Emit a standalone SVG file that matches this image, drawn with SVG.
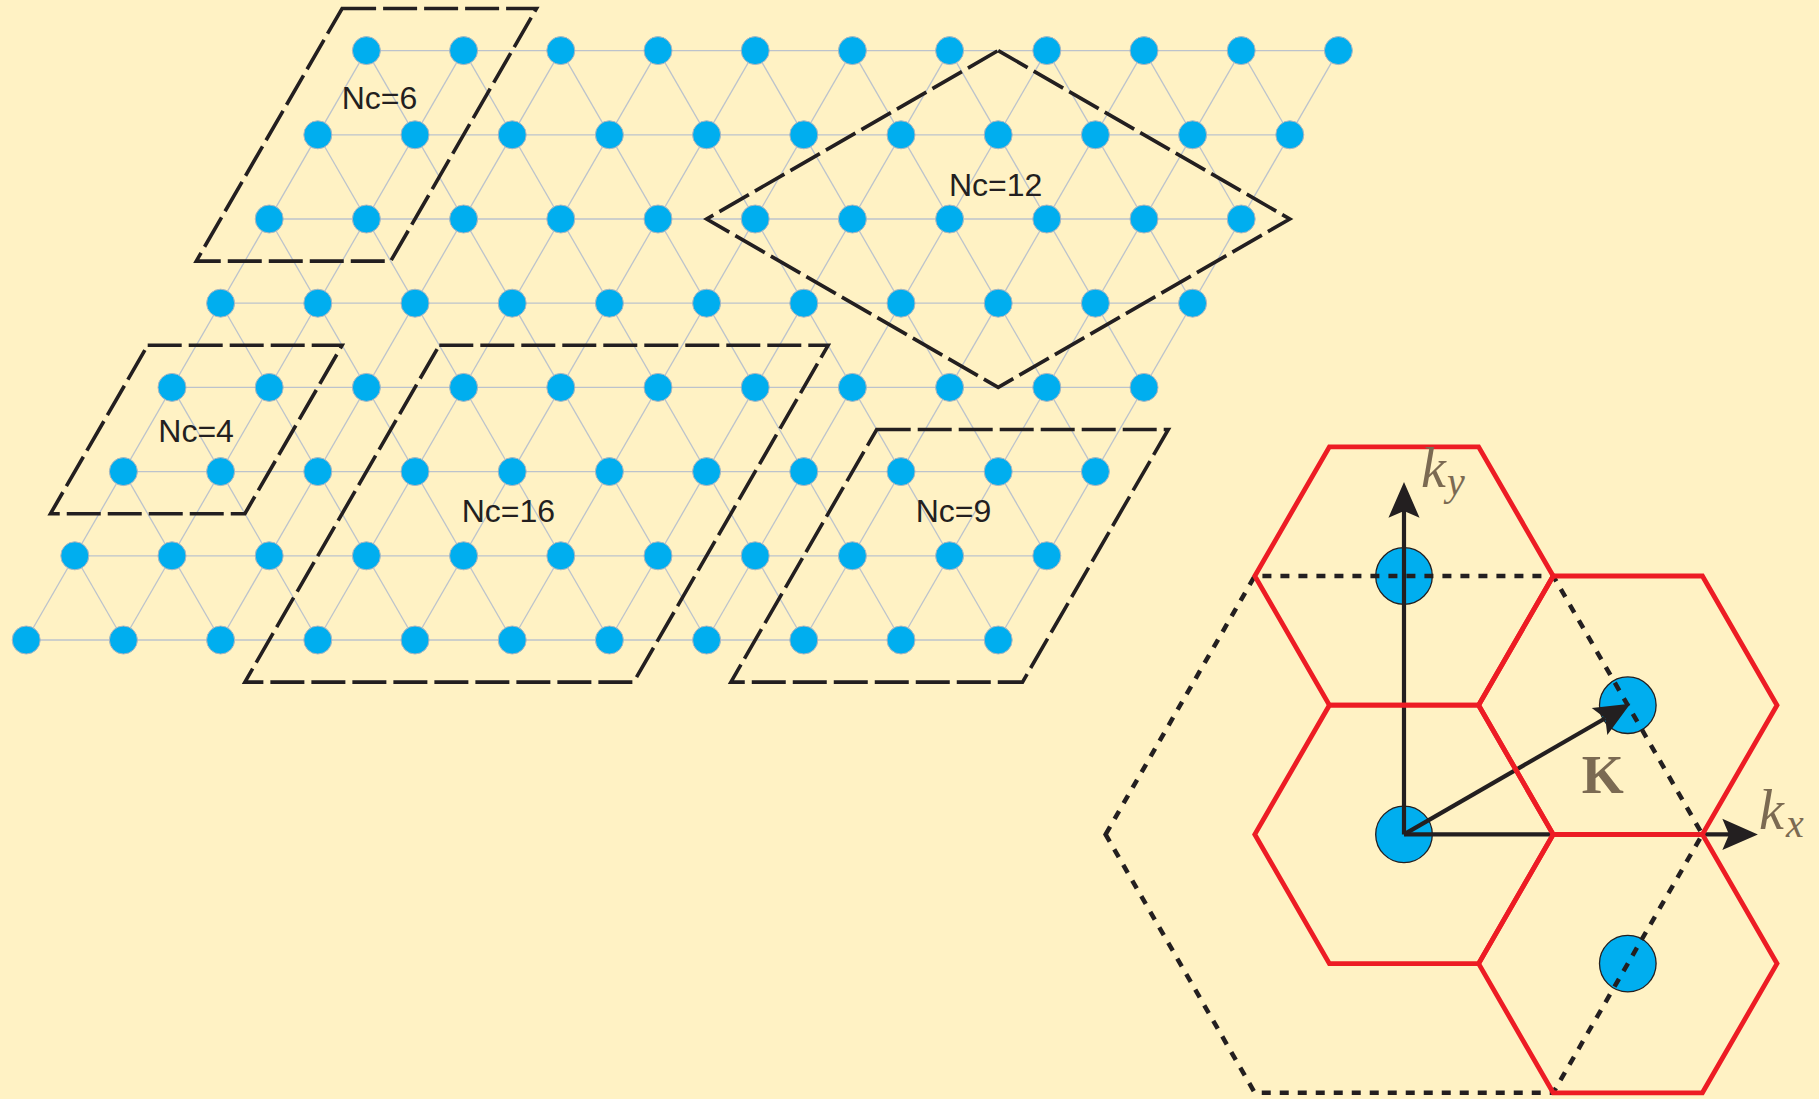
<svg xmlns="http://www.w3.org/2000/svg" width="1819" height="1099" viewBox="0 0 1819 1099">
<style>
.bg{fill:#FFF2C4}
.ln{stroke:#BCC3CC;stroke-width:1.3;fill:none}
.dot{fill:#00AEEF;stroke:#AEB6BF;stroke-width:1}
.cl{fill:none;stroke:#231F20;stroke-width:3.6;stroke-dasharray:34 7;stroke-linejoin:miter}
.lbl{font-family:"Liberation Sans",Arial,sans-serif;font-size:32px;fill:#231F20}
.red{fill:none;stroke:#ED1C24;stroke-width:4.8;stroke-linejoin:miter}
.bzd{fill:none;stroke:#231F20;stroke-width:4.5;stroke-dasharray:9 9}
.bzdot{fill:#00AEEF;stroke:#231F20;stroke-width:1.3}
.arr{stroke:#231F20;stroke-width:4.2;fill:none}
.mi{font-family:"Liberation Serif","Times New Roman",serif;font-style:italic;fill:#7B6A52}
.mb{font-family:"Liberation Serif","Times New Roman",serif;font-weight:bold;fill:#7B6A52}
</style>
<defs>
<marker id="ah" markerUnits="userSpaceOnUse" markerWidth="40" markerHeight="40" viewBox="-2 -16 36 32" refX="6" refY="0" orient="auto">
<path d="M32,0 L0,-14 L6,0 L0,14 Z" fill="#231F20"/>
</marker>
</defs>
<rect class="bg" x="0" y="0" width="1819" height="1099"/>

<g id="lattice-connectors" class="ln">
<line x1="366.4" y1="50.6" x2="1338.4" y2="50.6"/>
<line x1="317.8" y1="134.8" x2="1289.8" y2="134.8"/>
<line x1="269.2" y1="219" x2="1241.2" y2="219"/>
<line x1="220.6" y1="303.2" x2="1192.6" y2="303.2"/>
<line x1="172" y1="387.4" x2="1144" y2="387.4"/>
<line x1="123.4" y1="471.6" x2="1095.4" y2="471.6"/>
<line x1="74.8" y1="555.8" x2="1046.8" y2="555.8"/>
<line x1="26.2" y1="640" x2="998.2" y2="640"/>
<line x1="366.4" y1="50.6" x2="26.2" y2="640"/>
<line x1="463.6" y1="50.6" x2="123.4" y2="640"/>
<line x1="560.8" y1="50.6" x2="220.6" y2="640"/>
<line x1="658" y1="50.6" x2="317.8" y2="640"/>
<line x1="755.2" y1="50.6" x2="415" y2="640"/>
<line x1="852.4" y1="50.6" x2="512.2" y2="640"/>
<line x1="949.6" y1="50.6" x2="609.4" y2="640"/>
<line x1="1046.8" y1="50.6" x2="706.6" y2="640"/>
<line x1="1144" y1="50.6" x2="803.8" y2="640"/>
<line x1="1241.2" y1="50.6" x2="901" y2="640"/>
<line x1="1338.4" y1="50.6" x2="998.2" y2="640"/>
<line x1="366.4" y1="50.6" x2="706.6" y2="640"/>
<line x1="463.6" y1="50.6" x2="803.8" y2="640"/>
<line x1="560.8" y1="50.6" x2="901" y2="640"/>
<line x1="658" y1="50.6" x2="998.2" y2="640"/>
<line x1="755.2" y1="50.6" x2="1046.8" y2="555.8"/>
<line x1="852.4" y1="50.6" x2="1095.4" y2="471.6"/>
<line x1="949.6" y1="50.6" x2="1144" y2="387.4"/>
<line x1="1046.8" y1="50.6" x2="1192.6" y2="303.2"/>
<line x1="1144" y1="50.6" x2="1241.2" y2="219"/>
<line x1="1241.2" y1="50.6" x2="1289.8" y2="134.8"/>
<line x1="317.8" y1="134.8" x2="609.4" y2="640"/>
<line x1="269.2" y1="219" x2="512.2" y2="640"/>
<line x1="220.6" y1="303.2" x2="415" y2="640"/>
<line x1="172" y1="387.4" x2="317.8" y2="640"/>
<line x1="123.4" y1="471.6" x2="220.6" y2="640"/>
<line x1="74.8" y1="555.8" x2="123.4" y2="640"/>
</g>

<g id="lattice-nodes" class="dot">
<circle id="n0_0" cx="366.4" cy="50.6" r="14"/><circle id="n0_1" cx="463.6" cy="50.6" r="14"/><circle id="n0_2" cx="560.8" cy="50.6" r="14"/><circle id="n0_3" cx="658" cy="50.6" r="14"/><circle id="n0_4" cx="755.2" cy="50.6" r="14"/><circle id="n0_5" cx="852.4" cy="50.6" r="14"/><circle id="n0_6" cx="949.6" cy="50.6" r="14"/><circle id="n0_7" cx="1046.8" cy="50.6" r="14"/><circle id="n0_8" cx="1144" cy="50.6" r="14"/><circle id="n0_9" cx="1241.2" cy="50.6" r="14"/><circle id="n0_10" cx="1338.4" cy="50.6" r="14"/>
<circle id="n1_0" cx="317.8" cy="134.8" r="14"/><circle id="n1_1" cx="415" cy="134.8" r="14"/><circle id="n1_2" cx="512.2" cy="134.8" r="14"/><circle id="n1_3" cx="609.4" cy="134.8" r="14"/><circle id="n1_4" cx="706.6" cy="134.8" r="14"/><circle id="n1_5" cx="803.8" cy="134.8" r="14"/><circle id="n1_6" cx="901" cy="134.8" r="14"/><circle id="n1_7" cx="998.2" cy="134.8" r="14"/><circle id="n1_8" cx="1095.4" cy="134.8" r="14"/><circle id="n1_9" cx="1192.6" cy="134.8" r="14"/><circle id="n1_10" cx="1289.8" cy="134.8" r="14"/>
<circle id="n2_0" cx="269.2" cy="219" r="14"/><circle id="n2_1" cx="366.4" cy="219" r="14"/><circle id="n2_2" cx="463.6" cy="219" r="14"/><circle id="n2_3" cx="560.8" cy="219" r="14"/><circle id="n2_4" cx="658" cy="219" r="14"/><circle id="n2_5" cx="755.2" cy="219" r="14"/><circle id="n2_6" cx="852.4" cy="219" r="14"/><circle id="n2_7" cx="949.6" cy="219" r="14"/><circle id="n2_8" cx="1046.8" cy="219" r="14"/><circle id="n2_9" cx="1144" cy="219" r="14"/><circle id="n2_10" cx="1241.2" cy="219" r="14"/>
<circle id="n3_0" cx="220.6" cy="303.2" r="14"/><circle id="n3_1" cx="317.8" cy="303.2" r="14"/><circle id="n3_2" cx="415" cy="303.2" r="14"/><circle id="n3_3" cx="512.2" cy="303.2" r="14"/><circle id="n3_4" cx="609.4" cy="303.2" r="14"/><circle id="n3_5" cx="706.6" cy="303.2" r="14"/><circle id="n3_6" cx="803.8" cy="303.2" r="14"/><circle id="n3_7" cx="901" cy="303.2" r="14"/><circle id="n3_8" cx="998.2" cy="303.2" r="14"/><circle id="n3_9" cx="1095.4" cy="303.2" r="14"/><circle id="n3_10" cx="1192.6" cy="303.2" r="14"/>
<circle id="n4_0" cx="172" cy="387.4" r="14"/><circle id="n4_1" cx="269.2" cy="387.4" r="14"/><circle id="n4_2" cx="366.4" cy="387.4" r="14"/><circle id="n4_3" cx="463.6" cy="387.4" r="14"/><circle id="n4_4" cx="560.8" cy="387.4" r="14"/><circle id="n4_5" cx="658" cy="387.4" r="14"/><circle id="n4_6" cx="755.2" cy="387.4" r="14"/><circle id="n4_7" cx="852.4" cy="387.4" r="14"/><circle id="n4_8" cx="949.6" cy="387.4" r="14"/><circle id="n4_9" cx="1046.8" cy="387.4" r="14"/><circle id="n4_10" cx="1144" cy="387.4" r="14"/>
<circle id="n5_0" cx="123.4" cy="471.6" r="14"/><circle id="n5_1" cx="220.6" cy="471.6" r="14"/><circle id="n5_2" cx="317.8" cy="471.6" r="14"/><circle id="n5_3" cx="415" cy="471.6" r="14"/><circle id="n5_4" cx="512.2" cy="471.6" r="14"/><circle id="n5_5" cx="609.4" cy="471.6" r="14"/><circle id="n5_6" cx="706.6" cy="471.6" r="14"/><circle id="n5_7" cx="803.8" cy="471.6" r="14"/><circle id="n5_8" cx="901" cy="471.6" r="14"/><circle id="n5_9" cx="998.2" cy="471.6" r="14"/><circle id="n5_10" cx="1095.4" cy="471.6" r="14"/>
<circle id="n6_0" cx="74.8" cy="555.8" r="14"/><circle id="n6_1" cx="172" cy="555.8" r="14"/><circle id="n6_2" cx="269.2" cy="555.8" r="14"/><circle id="n6_3" cx="366.4" cy="555.8" r="14"/><circle id="n6_4" cx="463.6" cy="555.8" r="14"/><circle id="n6_5" cx="560.8" cy="555.8" r="14"/><circle id="n6_6" cx="658" cy="555.8" r="14"/><circle id="n6_7" cx="755.2" cy="555.8" r="14"/><circle id="n6_8" cx="852.4" cy="555.8" r="14"/><circle id="n6_9" cx="949.6" cy="555.8" r="14"/><circle id="n6_10" cx="1046.8" cy="555.8" r="14"/>
<circle id="n7_0" cx="26.2" cy="640" r="14"/><circle id="n7_1" cx="123.4" cy="640" r="14"/><circle id="n7_2" cx="220.6" cy="640" r="14"/><circle id="n7_3" cx="317.8" cy="640" r="14"/><circle id="n7_4" cx="415" cy="640" r="14"/><circle id="n7_5" cx="512.2" cy="640" r="14"/><circle id="n7_6" cx="609.4" cy="640" r="14"/><circle id="n7_7" cx="706.6" cy="640" r="14"/><circle id="n7_8" cx="803.8" cy="640" r="14"/><circle id="n7_9" cx="901" cy="640" r="14"/><circle id="n7_10" cx="998.2" cy="640" r="14"/>
</g>

<g id="clusters">
<g id="cluster-nc6"><path class="cl" d="M342.1,8.5 L536.5,8.5 L390.7,261.1 L196.3,261.1 Z"/><text class="lbl" x="341.7" y="109.3">Nc=6</text></g>
<g id="cluster-nc12"><path class="cl" d="M998.2,50.6 L1289.8,219 L998.2,387.4 L706.6,219 Z"/><text class="lbl" x="949" y="195.7">Nc=12</text></g>
<g id="cluster-nc4"><path class="cl" d="M147.7,345.3 L342.1,345.3 L244.9,513.7 L50.5,513.7 Z"/><text class="lbl" x="158.3" y="441.7">Nc=4</text></g>
<g id="cluster-nc16"><path class="cl" d="M439.3,345.3 L828.1,345.3 L633.7,682.1 L244.9,682.1 Z"/><text class="lbl" x="461.7" y="522.3">Nc=16</text></g>
<g id="cluster-nc9"><path class="cl" d="M876.7,429.5 L1168.3,429.5 L1022.5,682.1 L730.9,682.1 Z"/><text class="lbl" x="915.7" y="522.3">Nc=9</text></g>
</g>

<g id="brillouin-zone">
<g id="bz-points">
<circle id="bz-top" class="bzdot" cx="1404" cy="576" r="28.3"/>
<circle id="bz-center" class="bzdot" cx="1404" cy="834.4" r="28.3"/>
<circle id="bz-ur" class="bzdot" cx="1627.8" cy="705.2" r="28.3"/>
<circle id="bz-lr" class="bzdot" cx="1627.8" cy="963.6" r="28.3"/>
</g>
<path id="bz-large" class="bzd" d="M1105.6,834.4 L1254.8,576 L1553.2,576 L1702.4,834.4 L1553.2,1092.8 L1254.8,1092.8 Z"/>
<g id="bz-arrows" class="arr">
<line x1="1404" y1="834.4" x2="1404" y2="511" marker-end="url(#ah)"/>
<line x1="1404" y1="834.4" x2="1729" y2="834.4" marker-end="url(#ah)"/>
<line x1="1404" y1="834.4" x2="1605.3" y2="718.2" marker-end="url(#ah)"/>
</g>
<g id="bz-hexagons" class="red">
<path d="M1254.8,576 L1329.4,446.8 L1478.6,446.8 L1553.2,576 L1478.6,705.2 L1329.4,705.2 Z"/>
<path d="M1254.8,834.4 L1329.4,705.2 L1478.6,705.2 L1553.2,834.4 L1478.6,963.6 L1329.4,963.6 Z"/>
<path d="M1478.6,705.2 L1553.2,576 L1702.4,576 L1777,705.2 L1702.4,834.4 L1553.2,834.4 Z"/>
<path d="M1478.6,963.6 L1553.2,834.4 L1702.4,834.4 L1777,963.6 L1702.4,1092.8 L1553.2,1092.8 Z"/>
</g>
<g id="bz-labels">
<text class="mi" x="1421" y="487" font-size="56">k<tspan font-size="40" x="1447" y="495">y</tspan></text>
<text class="mi" x="1759" y="829" font-size="56">k<tspan font-size="40" x="1786" y="837">x</tspan></text>
<text class="mb" x="1581.7" y="792.7" font-size="54">K</text>
</g>
</g>
</svg>
